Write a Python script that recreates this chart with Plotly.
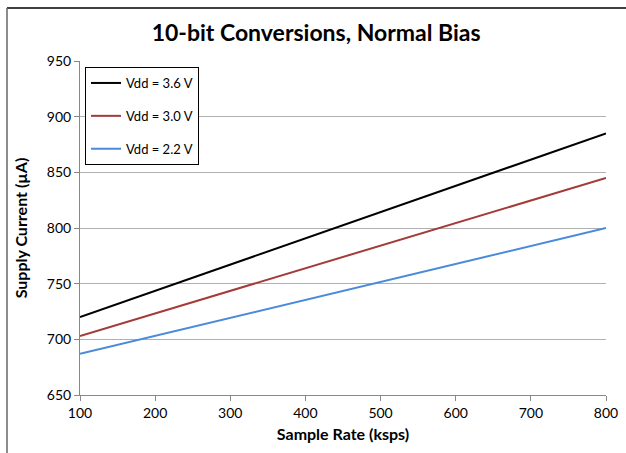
import plotly.graph_objects as go

sample_rate = [100, 800]
vdd36 = [720, 885]
vdd30 = [703, 845]
vdd22 = [687, 800]
names = ["Vdd = 3.6 V", "Vdd = 3.0 V", "Vdd = 2.2 V"]
colors = ["#000000", "#A33B38", "#4A8ADB"]

fig = go.Figure()
for i, (ys, n, c) in enumerate(zip([vdd36, vdd30, vdd22], names, colors)):
    fig.add_trace(go.Scatter(x=sample_rate, y=ys, mode="lines", name=n,
                             legendgroup=f"g{i}",
                             line=dict(color=c, width=2)))

font = "Lato, Open Sans, sans-serif"
L, R, T, B = 80, 20, 61, 58
pw = 626 - L - R
ph = 453 - T - B

def px_x(x):
    return (x - L) / pw

def px_y(y):
    return (453 - B - y) / ph

fig.update_layout(
    width=626, height=453,
    paper_bgcolor="white", plot_bgcolor="white",
    margin=dict(l=L, r=R, t=T, b=B, autoexpand=False),
    font=dict(family=font, size=14, color="#000"),
    title=dict(text="<b>10-bit Conversions, Normal Bias</b>", x=0.505, xanchor="center",
               y=1 - 33 / 453, yanchor="middle", font=dict(size=23, family=font)),
    xaxis=dict(range=[100, 800], dtick=100, tick0=100, showgrid=False,
               showline=True, linecolor="#888", linewidth=1,
               ticks="outside", ticklen=5, tickcolor="#888",
               automargin=False,
               title=dict(text="<b>Sample Rate (ksps)</b>", font=dict(size=16), standoff=9),
               zeroline=False),
    yaxis=dict(range=[650, 950], dtick=50, showgrid=True, gridcolor="#B0B0B0",
               showline=True, linecolor="#888", linewidth=1,
               ticks="outside", ticklen=5, tickcolor="#888",
               automargin=False,
               title=dict(text="<b>Supply Current (µA)</b>", font=dict(size=16), standoff=15),
               zeroline=False),
    legend=dict(x=px_x(85), y=px_y(67), xanchor="left", yanchor="top",
                bordercolor="#000", borderwidth=1, bgcolor="white",
                font=dict(size=13), tracegroupgap=13, itemwidth=30),
    showlegend=True,
    shapes=[
        dict(type="line", xref="paper", yref="paper", x0=px_x(7), x1=px_x(640),
             y0=px_y(8), y1=px_y(8), line=dict(color="#000", width=1.5)),
        dict(type="line", xref="paper", yref="paper", x0=px_x(7), x1=px_x(7),
             y0=px_y(8), y1=px_y(470), line=dict(color="#666", width=1.5)),
    ],
)

fig.write_html("out.html", config={"displayModeBar": False},
               post_script="document.body.style.margin='0';document.body.style.padding='0';")
